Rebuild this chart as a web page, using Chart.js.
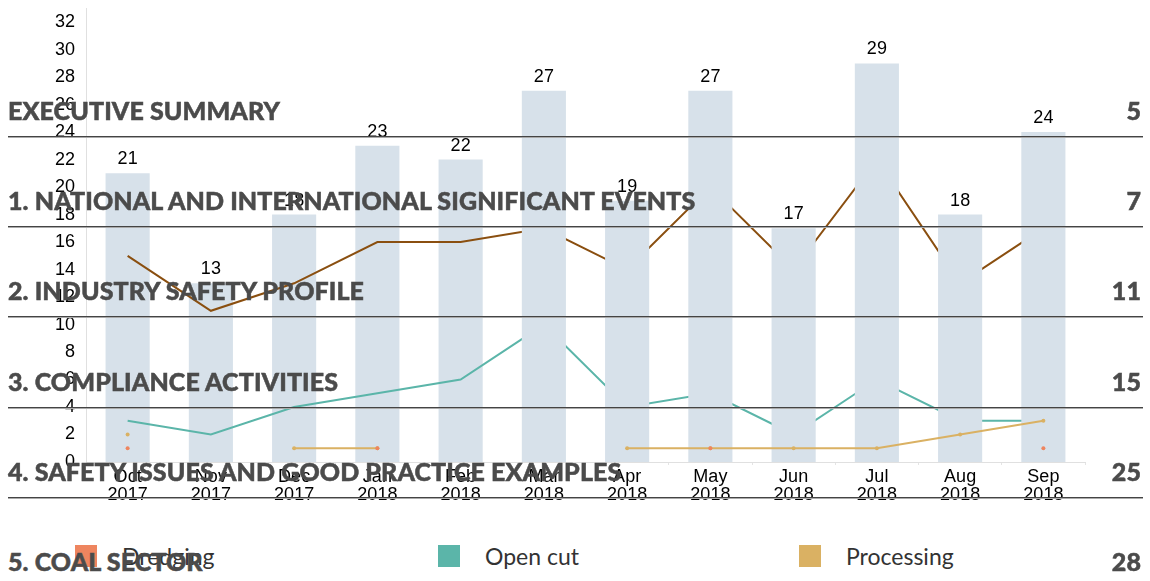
<!DOCTYPE html>
<html>
<head>
<meta charset="utf-8">
<script src="https://cdn.jsdelivr.net/npm/chart.js@4"></script>
<style>
  html, body { margin: 0; padding: 0; background: #fff; overflow: hidden; }
  body { width: 1150px; height: 581px; position: relative; }
  #chartBox { position: absolute; left: 0; top: 0; width: 1150px; height: 512px; }
  .legend-item { position: absolute; top: 545px; height: 22px; font-family: Lato, sans-serif; font-size: 23px; color: #333; }
  .legend-item span.sw { position: absolute; left: 0; top: 0; width: 22px; height: 22px; }
  .legend-item span.tx { position: absolute; top: -4px; white-space: nowrap; line-height: 30px; }
  .toc { position: absolute; left: 8px; width: 1135px; font-family: Lato, sans-serif; font-weight: 900; font-size: 25px;
         color: #4b4b4b; -webkit-text-stroke: 0.5px #4b4b4b; letter-spacing: 0.1px; }
  .toc .t { position: absolute; left: 0; white-space: nowrap; }
  .toc .p { position: absolute; right: 2px; }
  .toc .rule { position: absolute; left: 0; width: 1135px; height: 1px; background: #444; border-bottom: 1px solid #aaa; }
</style>
</head>
<body>
<div id="chartBox"><canvas id="incidentsChart" width="1150" height="512"></canvas></div>
<div id="legend"></div>
<div id="toc"></div>

<script>
// Données du graphique
const months = [['Oct', '2017'], ['Nov', '2017'], ['Dec', '2017'], ['Jan', '2018'], ['Feb', '2018'], ['Mar', '2018'],
                ['Apr', '2018'], ['May', '2018'], ['Jun', '2018'], ['Jul', '2018'], ['Aug', '2018'], ['Sep', '2018']];
const totals = [21, 13, 18, 23, 22, 27, 19, 27, 17, 29, 18, 24];
const dredging = [1, null, null, 1, null, null, null, 1, null, null, null, 1];
const openCut = [3, 2, 4, 5, 6, 10, 4, 5, 2, 6, 3, 3];
const processing = [2, null, 1, 1, null, null, 1, 1, 1, 1, 2, 3];
const underground = [15, 11, 13, 16, 16, 17, 14, 20, 14, 22, 13, 17];
const yTicksMax = 32;

// Table des matières superposée
const tocTitles = ['EXECUTIVE SUMMARY', '1. NATIONAL AND INTERNATIONAL SIGNIFICANT EVENTS', '2. INDUSTRY SAFETY PROFILE',
                   '3. COMPLIANCE ACTIVITIES', '4. SAFETY ISSUES AND GOOD PRACTICE EXAMPLES', '5. COAL SECTOR'];
const tocPages = ['5', '7', '11', '15', '25', '28'];

const colors = {
    bar: '#d7e1ea',
    dredging: '#ee855f',
    openCut: '#5bb5a9',
    processing: '#dab163',
    underground: '#8a4f10'
};

const splitAt = 5;
const barsEarly = totals.map((v, i) => i < splitAt ? v : null);
const barsLate = totals.map((v, i) => i >= splitAt ? v : null);

const barLabels = {
    id: 'barLabels',
    afterDatasetsDraw(chart) {
        const ctx = chart.ctx;
        ctx.save();
        ctx.font = '18px "Liberation Sans", Arial, sans-serif';
        ctx.fillStyle = '#000';
        ctx.textAlign = 'center';
        ctx.textBaseline = 'bottom';
        [0, 3].forEach(function (di) {
            const meta = chart.getDatasetMeta(di);
            meta.data.forEach(function (bar, i) {
                const v = chart.data.datasets[di].data[i];
                if (v === null) return;
                ctx.fillText(String(v), bar.x, bar.y - 5);
            });
        });
        ctx.restore();
    }
};

document.addEventListener('DOMContentLoaded', function () {
    const canvas = document.getElementById('incidentsChart');
    const ctx = canvas.getContext('2d');
    const lineBase = { type: 'line', borderWidth: 2, pointRadius: 0, pointBorderWidth: 0, tension: 0, spanGaps: false };

    new Chart(ctx, {
        type: 'bar',
        data: {
            labels: months,
            datasets: [
                { label: 'Total', data: barsEarly, backgroundColor: colors.bar, grouped: false,
                  barPercentage: 0.53, categoryPercentage: 1, order: 5 },
                Object.assign({}, lineBase, { label: 'Underground', data: underground, borderColor: colors.underground,
                  backgroundColor: colors.underground, order: 4 }),
                Object.assign({}, lineBase, { label: 'Open cut', data: openCut, borderColor: colors.openCut,
                  backgroundColor: colors.openCut, order: 4 }),
                { label: 'Total', data: barsLate, backgroundColor: colors.bar, grouped: false,
                  barPercentage: 0.53, categoryPercentage: 1, order: 3 },
                Object.assign({}, lineBase, { label: 'Processing', data: processing, borderColor: colors.processing,
                  backgroundColor: colors.processing, pointRadius: 2, order: 2 }),
                Object.assign({}, lineBase, { label: 'Dredging', data: dredging, borderColor: colors.dredging,
                  backgroundColor: colors.dredging, pointRadius: 2, order: 1 })
            ]
        },
        options: {
            responsive: false,
            animation: false,
            layout: { padding: { left: 0, right: 65, top: 6, bottom: 0 } },
            plugins: { legend: { display: false }, tooltip: { enabled: false } },
            scales: {
                x: {
                    offset: true,
                    grid: { display: true, drawOnChartArea: false, drawTicks: true, tickLength: 3, color: '#e4e4e4', offset: true },
                    border: { display: true, color: '#e0e0e0' },
                    ticks: { color: '#000', padding: 3, maxRotation: 0, font: { family: '"Liberation Sans", Arial', size: 18, lineHeight: 1.0 } },
                    afterFit: function (s) { s.height = 50; }
                },
                y: {
                    min: 0,
                    max: 33,
                    grid: { display: false },
                    border: { display: true, color: '#e0e0e0' },
                    ticks: { stepSize: 2, includeBounds: false, color: '#000', padding: 3,
                             font: { family: '"Liberation Sans", Arial', size: 18, lineHeight: 0.6 },
                             callback: function (v) { return v <= yTicksMax ? v : ''; } },
                    afterFit: function (s) { s.width = 86; }
                }
            }
        },
        plugins: [barLabels]
    });

    // Légende HTML
    const legendSeries = [
        { name: 'Dredging', color: colors.dredging, left: 75 },
        { name: 'Open cut', color: colors.openCut, left: 438 },
        { name: 'Processing', color: colors.processing, left: 799 }
    ];
    const legend = document.getElementById('legend');
    legendSeries.forEach(function (s) {
        const item = document.createElement('div');
        item.className = 'legend-item';
        item.style.left = s.left + 'px';
        item.innerHTML = '<span class="sw" style="background:' + s.color + '"></span><span class="tx" style="left:47px">' + s.name + '</span>';
        legend.appendChild(item);
    });

    // Table des matières
    const toc = document.getElementById('toc');
    tocTitles.forEach(function (title, i) {
        const row = document.createElement('div');
        row.className = 'toc';
        row.style.top = (95 + i * 90.2) + 'px';
        row.innerHTML = '<span class="t">' + title + '</span><span class="p">' + tocPages[i] + '</span>' +
                        '<div class="rule" style="top:' + 41 + 'px"></div>';
        toc.appendChild(row);
    });
});
</script>
</body>
</html>
